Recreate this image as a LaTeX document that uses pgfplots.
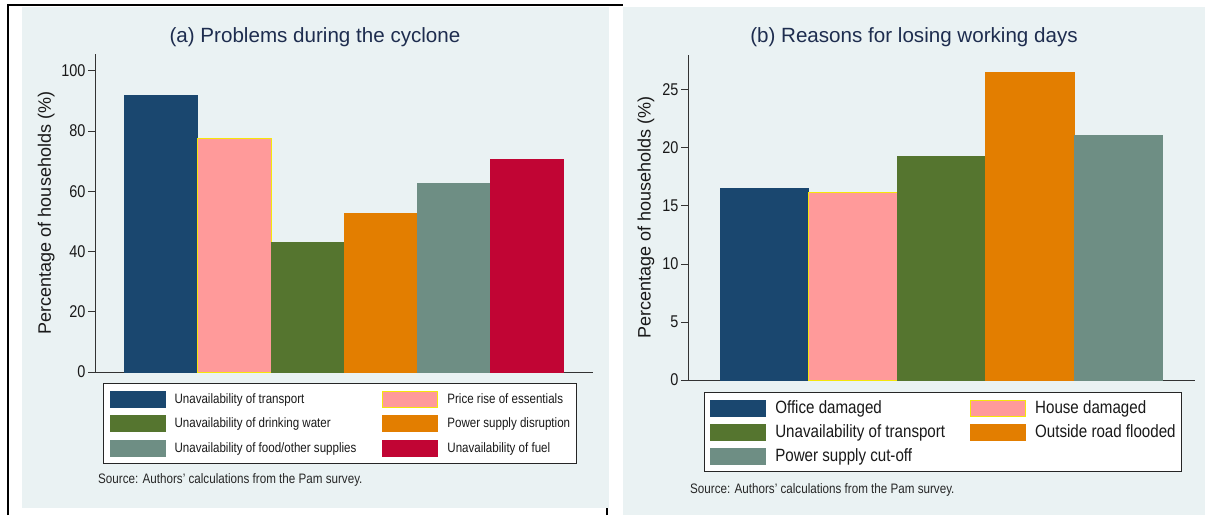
\documentclass[border=0pt]{standalone}
\usepackage{pgfplots}
\pgfplotsset{compat=1.18}
\usepackage{fontspec}
\setmainfont{Liberation Sans}[FakeStretch=0.85]
\newfontfamily\titlefont{Liberation Sans}
\newfontfamily\labfont{Liberation Sans}

\definecolor{bgc}{HTML}{EAF2F3}
\definecolor{navyc}{HTML}{1A476F}
\definecolor{pinkc}{HTML}{FF9A9A}
\definecolor{yelc}{HTML}{F5E60A}
\definecolor{greenc}{HTML}{55752F}
\definecolor{orangec}{HTML}{E37E00}
\definecolor{tealc}{HTML}{6E8E84}
\definecolor{redc}{HTML}{C10534}
\definecolor{titlec}{HTML}{1E2D4F}

\newcommand{\fs}[1]{\fontsize{#1}{#1}\selectfont}

\pgfplotsset{
  sbar/.style={ybar, bar shift=0pt, bar width=1, line width=0.8pt, fill=#1, draw=#1,
    legend image code/.code={\draw[##1, line width=1pt] (0pt,-8pt) rectangle (55pt,8pt);}},
  stata/.style={
    scale only axis,
    axis lines*=left,
    axis line style={draw=black!80, line width=1pt},
    ymin=0,
    xtick=\empty,
    ymajorgrids,
    grid style={draw=bgc, line width=1.5pt},
    tick align=outside,
    major tick length=7pt,
    tick style={draw=black!80, line width=0.8pt},
    /pgf/number format/assume math mode=true,
    yticklabel style={font=\fs{17}, text=black!90, xshift=1pt},
    every axis y label/.style={rotate=90, anchor=center, font=\labfont\fs{18}, text=black!90},
    legend columns=2,
    legend cell align=left,
  },
}

\begin{document}
\begin{tikzpicture}[x=1pt,y=1pt]
\useasboundingbox (0,0) rectangle (1205,515);
\fill[white] (0,0) rectangle (1205,515);
\fill[bgc] (22,7) rectangle (609,508);
\fill[bgc] (623,0) rectangle (1205,508);
\draw[black, line width=1.5pt] (8,0) -- (8,510) -- (623,510);
\draw[black, line width=1.5pt] (607,0) -- (607,7);

% panel (a)
\node[font=\titlefont\fs{20.6}, text=titlec] at (315,478) {(a) Problems during the cyclone};
\begin{axis}[stata,
  at={(95pt,143pt)}, anchor=south west,
  width=498pt, height=318pt,
  xmin=0.093, xmax=6.907, ymax=105.6,
  ytick={0,20,40,60,80,100},
  ylabel={Percentage of households (\%)},
  ylabel style={at={(axis description cs:-0.098,0.5)}},
  legend style={at={(axis description cs:0.016,-0.035)}, anchor=north west,
    draw=black!85, line width=1.2pt, fill=white, inner xsep=6pt, inner ysep=7pt,
    font=\fs{13.6}, text=black!90, row sep=7.5pt,
    nodes={inner sep=0pt},
    /tikz/every odd column/.append style={column sep=9pt},
    /tikz/every even column/.append style={column sep=26pt}},
]
\addplot[sbar=navyc] coordinates {(1,91.7)};
\addlegendentry{Unavailability of transport}
\addplot[sbar=pinkc, draw=yelc] coordinates {(2,77.7)};
\addlegendentry{Price rise of essentials}
\addplot[sbar=greenc] coordinates {(3,43.0)};
\addlegendentry{Unavailability of drinking water}
\addplot[sbar=orangec] coordinates {(4,52.7)};
\addlegendentry{Power supply disruption}
\addplot[sbar=tealc] coordinates {(5,62.6)};
\addlegendentry{Unavailability of food/other supplies}
\addplot[sbar=redc] coordinates {(6,70.5)};
\addlegendentry{Unavailability of fuel}
\end{axis}
\node[anchor=west, font=\fs{13.7}, text=black!85, inner sep=0pt] at (98,35) {Source: Authors’ calculations from the Pam survey.};

% panel (b)
\node[font=\titlefont\fs{20.6}, text=titlec] at (914,478) {(b) Reasons for losing working days};
\begin{axis}[stata,
  at={(688pt,135pt)}, anchor=south west,
  width=506.5pt, height=325pt,
  xmin=0.138, xmax=5.862, ymax=28.0,
  ytick={0,5,10,15,20,25},
  ylabel={Percentage of households (\%)},
  ylabel style={at={(axis description cs:-0.083,0.5)}},
  legend style={at={(axis description cs:0.031,-0.037)}, anchor=north west,
    draw=black!85, line width=1.2pt, fill=white, inner xsep=6pt, inner ysep=7pt,
    font=\fs{17.8}, text=black!90, row sep=7pt,
    nodes={inner sep=0pt},
    /tikz/every odd column/.append style={column sep=9pt},
    /tikz/every even column/.append style={column sep=25pt}},
]
\addplot[sbar=navyc] coordinates {(1,16.5)};
\addlegendentry{Office damaged}
\addplot[sbar=pinkc, draw=yelc] coordinates {(2,16.2)};
\addlegendentry{House damaged}
\addplot[sbar=greenc] coordinates {(3,19.3)};
\addlegendentry{Unavailability of transport}
\addplot[sbar=orangec] coordinates {(4,26.5)};
\addlegendentry{Outside road flooded}
\addplot[sbar=tealc] coordinates {(5,21.1)};
\addlegendentry{Power supply cut-off}
\end{axis}
\node[anchor=west, font=\fs{13.7}, text=black!85, inner sep=0pt] at (690,25) {Source: Authors’ calculations from the Pam survey.};
\end{tikzpicture}
\end{document}
